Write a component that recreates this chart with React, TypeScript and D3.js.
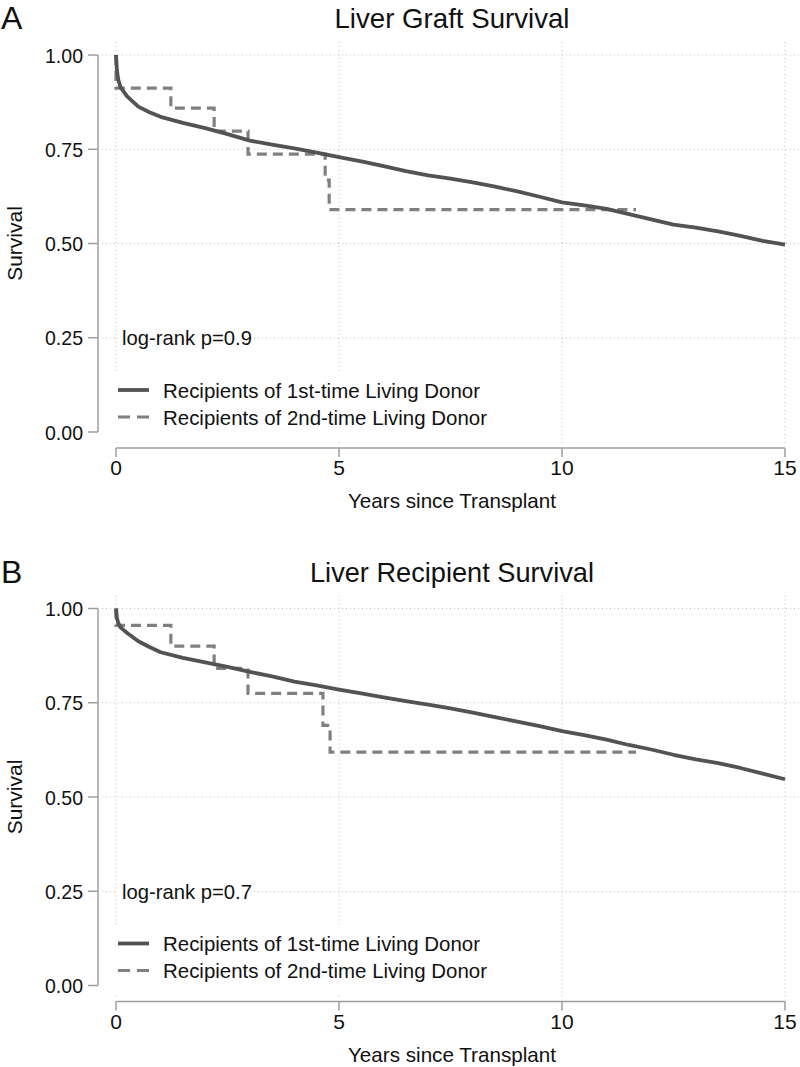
import React from "react";
import * as d3 from "d3";

// ---------- data ----------
const graftFirstTimes = [0, 0.02, 0.05, 0.1, 0.25, 0.5, 0.75, 1, 1.5, 2, 2.5, 3, 3.5, 4, 4.5, 5, 5.5, 6, 6.5, 7, 7.5, 8, 8.5, 9, 9.5, 10, 10.5, 11, 11.5, 12, 12.5, 13, 13.5, 14, 14.5, 15];
const graftFirstSurv = [1, 0.96, 0.935, 0.915, 0.89, 0.863, 0.848, 0.836, 0.82, 0.806, 0.79, 0.773, 0.762, 0.752, 0.741, 0.729, 0.718, 0.705, 0.692, 0.681, 0.672, 0.662, 0.651, 0.638, 0.624, 0.609, 0.601, 0.592, 0.578, 0.564, 0.55, 0.542, 0.532, 0.52, 0.507, 0.497];
const graftSecondTimes = [0, 0, 1.23, 2.2, 2.96, 4.69, 4.78, 11.66];
const graftSecondSurv = [1, 0.912, 0.859, 0.798, 0.737, 0.668, 0.59, 0.59];

const recipFirstTimes = [0, 0.02, 0.05, 0.1, 0.25, 0.5, 0.75, 1, 1.5, 2, 2.5, 3, 3.5, 4, 4.5, 5, 5.5, 6, 6.5, 7, 7.5, 8, 8.5, 9, 9.5, 10, 10.5, 11, 11.5, 12, 12.5, 13, 13.5, 14, 14.5, 15];
const recipFirstSurv = [1, 0.975, 0.962, 0.95, 0.935, 0.913, 0.898, 0.884, 0.869, 0.857, 0.845, 0.832, 0.82, 0.806, 0.796, 0.785, 0.775, 0.764, 0.754, 0.745, 0.735, 0.724, 0.712, 0.7, 0.688, 0.675, 0.664, 0.652, 0.638, 0.626, 0.612, 0.6, 0.59, 0.577, 0.562, 0.547];
const recipSecondTimes = [0, 0, 1.23, 2.2, 2.96, 4.64, 4.8, 11.66];
const recipSecondSurv = [1, 0.955, 0.9, 0.841, 0.775, 0.69, 0.619, 0.619];

const yTicks = [0, 0.25, 0.5, 0.75, 1];
const yGrid = [0.25, 0.5, 0.75, 1];
const xTicks = [0, 5, 10, 15];
const legendLabels = ["Recipients of 1st-time Living Donor", "Recipients of 2nd-time Living Donor"];

const panels = [
  { letter: "A", title: "Liver Graft Survival", titleW: 235, pval: "log-rank p=0.9", t1: graftFirstTimes, s1: graftFirstSurv, t2: graftSecondTimes, s2: graftSecondSurv, off: 0 },
  { letter: "B", title: "Liver Recipient Survival", titleW: 284, pval: "log-rank p=0.7", t1: recipFirstTimes, s1: recipFirstSurv, t2: recipSecondTimes, s2: recipSecondSurv, off: 553.5 },
];

const FONT = "'Liberation Sans', Arial, Helvetica, sans-serif";
const SOLID = "#535353";
const DASH = "#808080";
const AXIS = "#9e9e9e";
const GRID = "#bdbdbd";
const TXT = "#111";

function Panel({ p }: { p: typeof panels[number] }) {
  const x = d3.scaleLinear().domain([0, 15]).range([116, 785]);
  const y = d3.scaleLinear().domain([0, 1]).range([432, 55]);
  const line = d3.line<[number, number]>().x(d => x(d[0])).y(d => y(d[1]));
  const step = d3.line<[number, number]>().x(d => x(d[0])).y(d => y(d[1])).curve(d3.curveStepAfter);
  const d1 = p.t1.map((t, i) => [t, p.s1[i]] as [number, number]);
  const d2 = p.t2.map((t, i) => [t, p.s2[i]] as [number, number]);
  const axisY = 448;
  const adj = "spacingAndGlyphs";
  return (
    <g transform={`translate(0,${p.off})`} fontFamily={FONT}>
      <text x={1} y={29} fontSize={32} fill={TXT}>{p.letter}</text>
      <text x={452} y={28} fontSize={28} textAnchor="middle" fill={TXT} textLength={p.titleW} lengthAdjust={adj}>{p.title}</text>
      {/* gridlines */}
      {yGrid.map(v => (
        <line key={"hg" + v} x1={102} x2={800} y1={y(v)} y2={y(v)} stroke={GRID} strokeWidth={1} strokeDasharray="1,3" />
      ))}
      {xTicks.map(v => (
        <line key={"vg" + v} x1={x(v)} x2={x(v)} y1={42} y2={444} stroke={GRID} strokeWidth={1} strokeDasharray="1,3" />
      ))}
      {/* y axis */}
      <line x1={98} x2={98} y1={y(1)} y2={y(0)} stroke={AXIS} strokeWidth={1.5} />
      {yTicks.map(v => (
        <g key={"yt" + v}>
          <line x1={88} x2={98} y1={y(v)} y2={y(v)} stroke={AXIS} strokeWidth={1.5} />
          <text x={83} y={y(v)} dy="0.36em" fontSize={21} textAnchor="end" fill={TXT} textLength={38} lengthAdjust={adj}>{v.toFixed(2)}</text>
        </g>
      ))}
      <text transform={`translate(22,${y(0.5)}) rotate(-90)`} fontSize={21} textAnchor="middle" fill={TXT}>Survival</text>
      {/* x axis */}
      <line x1={x(0)} x2={x(15)} y1={axisY} y2={axisY} stroke={AXIS} strokeWidth={1.5} />
      {xTicks.map(v => (
        <g key={"xt" + v}>
          <line x1={x(v)} x2={x(v)} y1={axisY} y2={axisY + 9} stroke={AXIS} strokeWidth={1.5} />
          <text x={x(v)} y={axisY + 27} fontSize={21} textAnchor="middle" fill={TXT}>{v}</text>
        </g>
      ))}
      <text x={452} y={508} fontSize={21} textAnchor="middle" fill={TXT} textLength={208} lengthAdjust={adj}>Years since Transplant</text>
      {/* curves */}
      <path d={step(d2) || ""} fill="none" stroke={DASH} strokeWidth={3.2} strokeDasharray="10,6" />
      <path d={line(d1) || ""} fill="none" stroke={SOLID} strokeWidth={3.8} strokeLinejoin="round" />
      {/* p-value */}
      <rect x={118} y={y(0.25) - 11} width={136} height={22} fill="#fff" />
      <text x={122} y={y(0.25)} dy="0.36em" fontSize={21} fill={TXT} textLength={130} lengthAdjust={adj}>{p.pval}</text>
      {/* legend */}
      <rect x={108} y={372} width={388} height={68} fill="#fff" />
      <line x1={118} x2={149} y1={390} y2={390} stroke={SOLID} strokeWidth={3.8} />
      <line x1={118} x2={149} y1={417} y2={417} stroke={DASH} strokeWidth={3.2} strokeDasharray="12,7" />
      <text x={163} y={390} dy="0.36em" fontSize={21} fill={TXT} textLength={317} lengthAdjust={adj}>{legendLabels[0]}</text>
      <text x={163} y={417} dy="0.36em" fontSize={21} fill={TXT} textLength={324} lengthAdjust={adj}>{legendLabels[1]}</text>
    </g>
  );
}

export default function App() {
  return (
    <svg width={800} height={1067} style={{ display: "block", position: "absolute", left: 0, top: 0, background: "#fff" }}>
      <rect x={0} y={0} width={800} height={1067} fill="#fff" />
      {panels.map(p => <Panel key={p.letter} p={p} />)}
    </svg>
  );
}
